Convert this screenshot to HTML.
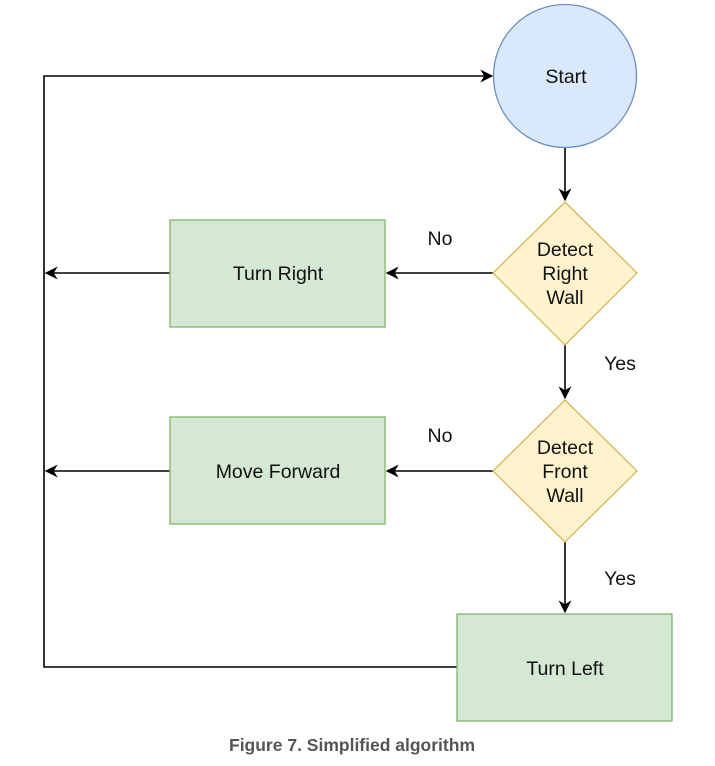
<!DOCTYPE html>
<html><head><style>body{margin:0;background:#fff}svg{display:block}</style></head><body>
<svg width="715" height="766" viewBox="0 0 715 766" xmlns="http://www.w3.org/2000/svg" font-family="Liberation Sans, sans-serif">
<defs><marker id="a" viewBox="0 0 10 10" refX="9" refY="5" markerWidth="13" markerHeight="13" markerUnits="userSpaceOnUse" orient="auto"><path d="M0,0 L10,5 L0,10 L3,5 Z" fill="#000"/></marker></defs>
<g stroke="#000" stroke-width="1.6" fill="none">
<path d="M457,667 H44 V76 H492" marker-end="url(#a)"/>
<path d="M565,148 V200" marker-end="url(#a)"/>
<path d="M565,345 V398" marker-end="url(#a)"/>
<path d="M565,542 V612" marker-end="url(#a)"/>
<path d="M493,273 H387" marker-end="url(#a)"/>
<path d="M493,471 H387" marker-end="url(#a)"/>
<path d="M170,273 H46" marker-end="url(#a)"/>
<path d="M170,471 H46" marker-end="url(#a)"/>
</g>
<circle cx="565" cy="76" r="71.5" fill="#dae8fc" stroke="#6c8ebf" stroke-width="1.3"/>
<path d="M565,202 L637,273 L565,345 L493,273 Z" fill="#fff2cc" stroke="#d6b656" stroke-width="1.3"/>
<path d="M565,400 L637,471 L565,542 L493,471 Z" fill="#fff2cc" stroke="#d6b656" stroke-width="1.3"/>
<rect x="170" y="220" width="215" height="107" fill="#d5e8d4" stroke="#82b366" stroke-width="1.3"/>
<rect x="170" y="417" width="215" height="107" fill="#d5e8d4" stroke="#82b366" stroke-width="1.3"/>
<rect x="457" y="614" width="215" height="107" fill="#d5e8d4" stroke="#82b366" stroke-width="1.3"/>
<g font-size="19.5" fill="#111" text-anchor="middle">
<text x="566" y="83">Start</text>
<text x="565" y="256">Detect</text><text x="565" y="280">Right</text><text x="565" y="304">Wall</text>
<text x="565" y="454">Detect</text><text x="565" y="478">Front</text><text x="565" y="502">Wall</text>
<text x="278" y="280">Turn Right</text>
<text x="278" y="478">Move Forward</text>
<text x="565" y="675">Turn Left</text>
<text x="440" y="245">No</text>
<text x="440" y="442">No</text>
<text x="620" y="370">Yes</text>
<text x="620" y="585">Yes</text>
</g>
<text x="352" y="751" font-size="17.5" font-weight="bold" fill="#555" text-anchor="middle">Figure 7. Simplified algorithm</text>
</svg>
</body></html>
